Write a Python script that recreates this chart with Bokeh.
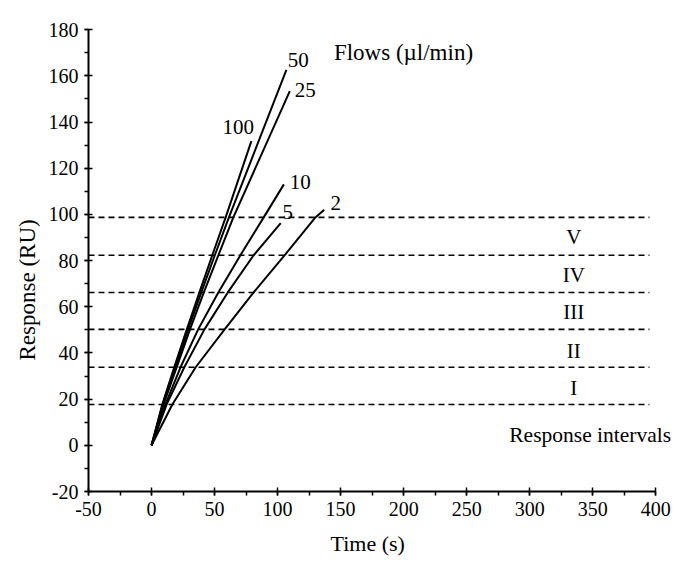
from bokeh.plotting import figure
from bokeh.models import Range1d, FixedTicker, PrintfTickFormatter, Title
from bokeh.core.properties import value
from bokeh.embed import file_html
from bokeh.resources import INLINE

FONT = "Liberation Serif"

# Flow curves (time s, response RU)
t_100 = [0, 8.5, 18, 28, 38, 48.2, 58.8, 79.2]
r_100 = [0, 17.7, 33.8, 50.2, 66.2, 82.3, 98.7, 131.7]
t_50 = [0, 9, 19, 29, 39.5, 50.2, 61.4, 107]
r_50 = [0, 17.7, 33.8, 50.2, 66.2, 82.3, 98.7, 162.6]
t_25 = [0, 9.5, 20, 30.5, 41.5, 53, 64.9, 109.7]
r_25 = [0, 17.7, 33.8, 50.2, 66.2, 82.3, 98.7, 153.4]
t_10 = [0, 11, 23, 37, 53, 70.5, 89, 105]
r_10 = [0, 17.7, 33.8, 50.2, 66.2, 82.3, 98.7, 113]
t_5 = [0, 12, 26, 42, 60.5, 81, 102.5]
r_5 = [0, 17.7, 33.8, 50.2, 66.2, 82.3, 96.2]
t_2 = [0, 16.5, 35, 58, 81, 105.5, 130, 137]
r_2 = [0, 17.7, 33.8, 50.2, 66.2, 82.3, 98.7, 102]

flow_names = ["100", "50", "25", "10", "5", "2"]
flow_label_x = [56.4, 108, 113.7, 109.7, 104, 142]
flow_label_y = [137.7, 166.7, 154, 113.9, 100.9, 104.8]

# Response interval boundaries
interval_levels = [17.7, 33.8, 50.2, 66.2, 82.3, 98.7]
interval_x_start = -50
interval_x_end = 395
interval_names = ["I", "II", "III", "IV", "V"]
interval_label_y = [25, 41, 57.6, 73.6, 90]
interval_label_x = 335

x_ticks = [-50, 0, 50, 100, 150, 200, 250, 300, 350, 400]
y_ticks = [-20, 0, 20, 40, 60, 80, 100, 120, 140, 160, 180]

p = figure(width=672, height=571, output_backend="svg", toolbar_location=None,
           x_range=Range1d(-50, 413.3), y_range=Range1d(-20, 180.5),
           min_border_left=88, min_border_right=0, min_border_top=28, min_border_bottom=80)
p.outline_line_color = None
p.grid.visible = False
p.background_fill_color = "white"
p.border_fill_color = "white"

# dashed interval lines
for lv in interval_levels:
    p.line([interval_x_start, interval_x_end], [lv, lv], line_color="black",
           line_width=1.6, line_dash="6 4")

for tx, ry in [(t_100, r_100), (t_50, r_50), (t_25, r_25), (t_10, r_10), (t_5, r_5), (t_2, r_2)]:
    p.line(tx, ry, line_color="black", line_width=2)

p.text(x=flow_label_x, y=flow_label_y, text=flow_names, text_font=value(FONT),
       text_font_size="21px", text_align="left", text_baseline="middle", text_color="black")
p.text(x=[144.7], y=[170], text=["Flows (µl/min)"], text_font=value(FONT),
       text_font_size="23px", text_align="left", text_baseline="middle", text_color="black")
p.text(x=[interval_label_x] * len(interval_names), y=interval_label_y, text=interval_names,
       text_font=value(FONT), text_font_size="21px", text_align="center",
       text_baseline="middle", text_color="black")
p.text(x=[348], y=[4.3], text=["Response intervals"], text_font=value(FONT),
       text_font_size="21.5px", text_align="center", text_baseline="middle", text_color="black")

xa = p.xaxis[0]
xa.ticker = FixedTicker(ticks=x_ticks, minor_ticks=list(range(-50, 401, 25)))
xa.bounds = (-50, 400)
ya = p.yaxis[0]
ya.ticker = FixedTicker(ticks=y_ticks, minor_ticks=list(range(-20, 181, 10)))
ya.bounds = (-20, 180)

for ax in (xa, ya):
    ax.formatter = PrintfTickFormatter(format="%d")
    ax.axis_line_width = 2
    ax.axis_line_color = "black"
    ax.major_tick_line_color = "black"
    ax.minor_tick_line_color = "black"
    ax.major_tick_line_width = 1.5
    ax.minor_tick_line_width = 1.5
    ax.major_tick_in = 4
    ax.major_tick_out = 4
    ax.minor_tick_in = 0
    ax.minor_tick_out = 4
    ax.major_label_text_font = FONT
    ax.major_label_text_font_size = "20px"
    ax.major_label_text_color = "black"

xa.major_label_standoff = 6
ya.major_label_standoff = 6

# axis titles as side titles (allow offset from the frame edge)
p.add_layout(Title(text="Time (s)", align="left", offset=242, standoff=21,
                   text_font=FONT, text_font_size="22px", text_font_style="normal",
                   text_color="black"), "below")
p.add_layout(Title(text="Response (RU)", align="left", offset=131, standoff=12,
                   text_font=FONT, text_font_size="23px", text_font_style="normal",
                   text_color="black"), "left")

open("out.html", "w").write(file_html(p, INLINE))
